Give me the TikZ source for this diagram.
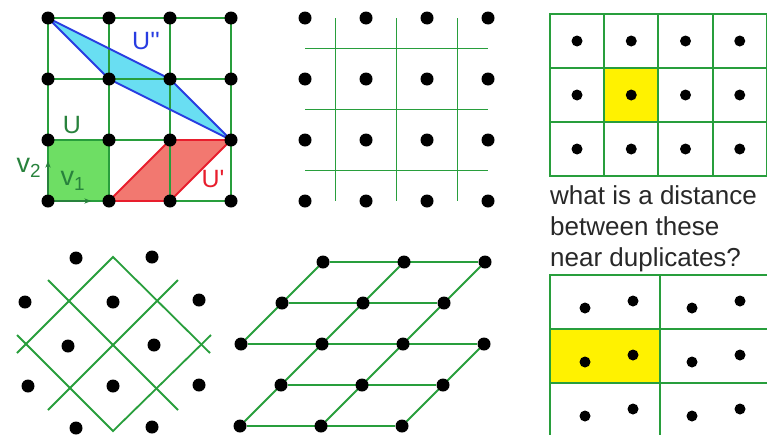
\documentclass[tikz,border=0pt]{standalone}
\usepackage{fontspec}
\setmainfont{Liberation Sans}
\usetikzlibrary{calc,backgrounds,arrows.meta}
\definecolor{gridgreen}{RGB}{40,158,60}
\definecolor{labelgreen}{RGB}{40,130,60}
\definecolor{ufill}{RGB}{110,222,100}
\definecolor{redfill}{RGB}{242,120,112}
\definecolor{cyanfill}{RGB}{105,222,242}
\definecolor{edgeblue}{RGB}{40,60,225}
\definecolor{edgered}{RGB}{232,30,45}
\definecolor{textgray}{RGB}{40,40,40}
\tikzset{
    lattice-dot/.style = {circle, fill=black, inner sep=0pt, minimum size=13pt},
    small-dot/.style = {circle, fill=black, inner sep=0pt, minimum size=11pt},
    grid-line/.style = {draw=gridgreen, line width=1.8pt},
    cell/.style = {draw=gridgreen, line width=1.8pt, rectangle, inner sep=0pt},
    vec-arrow/.style = {draw=labelgreen, line width=1.4pt, -{Stealth[length=7pt]}},
    big-label/.style = {font=\fontsize{25}{25}\selectfont, inner sep=0pt},
}

\begin{document}
\begin{tikzpicture}[x=1pt,y=-1pt]
\clip (0,0) rectangle (767,434);
\begin{scope}[on background layer]
\fill[white] (0,0) rectangle (767,434);
\end{scope}

\foreach \i in {0,...,3}
  \foreach \j in {0,...,3}
    \node[lattice-dot] (a\i\j) at ({48+61*\i},{18+61*\j}) {};
\begin{scope}[on background layer]
\fill[ufill] (a02.center) rectangle (a13.center);
\fill[redfill] (a13.center) -- (a22.center) -- (a32.center) -- (a23.center) -- cycle;
\fill[cyanfill] (a00.center) -- (a21.center) -- (a32.center) -- (a11.center) -- cycle;
\foreach \k in {0,...,3} {
  \draw[grid-line] (a0\k.center) -- (a3\k.center);
  \draw[grid-line] (a\k0.center) -- (a\k3.center);
}
\draw[edgered, line width=1.8pt] (a13.center) -- (a22.center) -- (a32.center) -- (a23.center) -- cycle;
\draw[edgeblue, line width=1.8pt] (a00.center) -- (a21.center) -- (a32.center) -- (a11.center) -- cycle;
\end{scope}
\draw[vec-arrow, shorten >=11pt] (a03) -- (a13);
\draw[vec-arrow, shorten >=14pt] (a03) -- (a02);
\node[big-label, text=labelgreen] (u-label) at (72,125) {U};
\node[text=labelgreen, font=\fontsize{27}{27}\selectfont, inner sep=0pt] (v2-label) at (29,168) {v\textsubscript{2}};
\node[text=labelgreen, font=\fontsize{27}{27}\selectfont, inner sep=0pt] (v1-label) at (73,181) {v\textsubscript{1}};
\node[big-label, text=edgeblue] (u2-label) at (146,41) {U\textquotesingle\textquotesingle};
\node[big-label, text=edgered] (u1-label) at (213,179) {U\textquotesingle};

\foreach \i in {0,...,3}
  \foreach \j in {0,...,3}
    \node[lattice-dot] (b\i\j) at ({305+61*\i},{18+61*\j}) {};
\foreach \k [count=\n from 1] in {0,1,2} {
  \draw[grid-line] ($(b\k0)!0.5!(b\n0)$) -- ($(b\k3)!0.5!(b\n3)$);
  \draw[grid-line] ($(b0\k)!0.5!(b0\n)$) -- ($(b3\k)!0.5!(b3\n)$);
}

\foreach \i in {0,...,3}
  \foreach \j in {0,1,2} {
    \node[cell, minimum size=54.25pt] (c\i\j) at ({577+54.25*\i},{41+54*\j}) {};
    \node[small-dot] (c\i\j-dot) at (c\i\j) {};
  }
\begin{scope}[on background layer]
\fill[yellow] (c11.south west) rectangle (c11.north east);
\end{scope}
\node[anchor=north west, align=left, inner sep=0pt, text=textgray,
  font=\fontsize{26}{31}\selectfont] (question) at (550,185)
  {what is a distance\\between these\\near duplicates?};

\foreach \i in {0,1}
  \foreach \j in {0,1,2} {
    \node[cell, minimum width=110pt, minimum height=54pt] (d\i\j) at ({605+110*\i},{302+54*\j}) {};
    \node[small-dot] (d\i\j-l) at ({585+107*\i},{308+54*\j}) {};
    \node[small-dot] (d\i\j-r) at ({633+107*\i},{301+54*\j}) {};
  }
\begin{scope}[on background layer]
\fill[yellow] (d01.south west) rectangle (d01.north east);
\end{scope}

\foreach \x/\y [count=\n] in {76/258, 152/257, 25/302, 113/302, 199/300, 68/346,
    154/345, 28/386, 113/386, 199/385, 76/428, 152/427}
  \node[lattice-dot] (e\n) at (\x,\y) {};
\begin{scope}[on background layer]
\draw[grid-line] (17,353) -- (113,257) -- (210,353);
\draw[grid-line] (17,335) -- (113,431) -- (211,335);
\draw[grid-line] (48,280) -- (178,410);
\draw[grid-line] (48,410) -- (178,280);
\end{scope}

\foreach \j in {0,1}
  \foreach \i in {1,2,3}
    \node[lattice-dot] (f\i\j) at ({159+81*\i+41*\j},{426-41*\j}) {};
\foreach \i in {0,...,3}
  \node[lattice-dot] (f\i2) at ({241+81*\i},344) {};
\foreach \j in {3,4}
  \foreach \i in {0,1,2}
    \node[lattice-dot] (f\i\j) at ({159+81*\i+41*\j},{426-41*\j}) {};
\begin{scope}[on background layer]
\draw[grid-line] (f10) -- (f30);
\draw[grid-line] (f11) -- (f31);
\draw[grid-line] (f02) -- (f32);
\draw[grid-line] (f03) -- (f23);
\draw[grid-line] (f04) -- (f24);
\draw[grid-line] (f02) -- (f04);
\draw[grid-line] (f10) -- (f14);
\draw[grid-line] (f20) -- (f24);
\draw[grid-line] (f30) -- (f32);
\end{scope}
\end{tikzpicture}
\end{document}
